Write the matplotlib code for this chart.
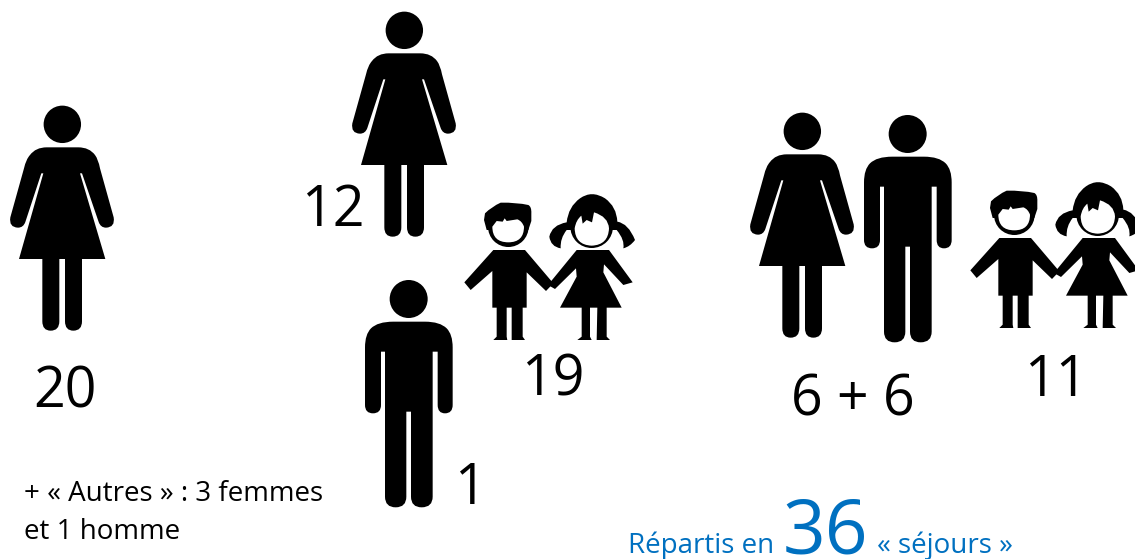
#!/usr/bin/env python
import matplotlib
matplotlib.use("Agg")
import matplotlib.pyplot as plt
from matplotlib.patches import Circle, PathPatch
from matplotlib.path import Path

plt.rcParams["font.family"] = ["Open Sans", "DejaVu Sans"]

group_counts = ["20", "12", "1", "19", "6 + 6", "11"]
others_note = "+ « Autres » : 3 femmes\net 1 homme"
stays_before = "Répartis en"
stays_count = "36"
stays_after = "« séjours »"

BLACK = "#000000"
BLUE = "#0070C0"


# outlines are in zoomed-in units, 3 units = 1 px; a 4-tuple is a curve (ctrl + end)
WOMAN_BODY = [
    (140, 172), (235, 172), (268, 172, 285, 195), (295, 208, 300, 235), (341, 382),
    (346, 412, 318, 413), (302, 413, 296, 396), (246, 250), (240, 250), (316, 507),
    (246, 507), (246, 694), (246, 722, 220, 722), (195, 722, 195, 694), (195, 507),
    (178, 507), (178, 694), (178, 722, 152, 722), (127, 722, 127, 694), (127, 507),
    (57, 507), (130, 250), (124, 250), (76, 396), (70, 413, 54, 413), (26, 412, 31, 382),
    (72, 235), (78, 208, 90, 195), (107, 172, 140, 172),
]
MAN_BODY = [
    (115, 155), (210, 155), (255, 155, 275, 175), (293, 193, 293, 232), (293, 405),
    (293, 430, 270, 430), (248, 430, 248, 405), (248, 245), (233, 245), (233, 680),
    (233, 712, 200, 712), (168, 712, 168, 680), (168, 425), (154, 425), (154, 680),
    (154, 712, 122, 712), (90, 712, 90, 680), (90, 245), (78, 245), (78, 405),
    (78, 430, 54, 430), (30, 430, 30, 405), (30, 232), (30, 193, 48, 175), (68, 155, 115, 155),
]
BOY_HAIR = [
    (75, 85), (95, 65, 122, 53), (170, 52, 205, 60), (215, 65, 214, 85), (214, 108),
    (205, 135), (80, 135), (72, 105),
]
BOY_FACE = [
    (97, 125), (97, 172, 145, 172), (192, 172, 192, 125), (186, 108, 172, 103),
    (140, 108), (134, 100), (128, 110), (110, 108), (97, 125),
]
BOY_BODY = [
    (100, 195), (195, 195), (280, 295), (258, 318), (200, 262), (200, 368), (188, 368),
    (188, 455), (195, 465), (155, 465), (155, 368), (140, 368), (140, 455), (142, 465),
    (100, 465), (110, 455), (110, 368), (97, 368), (97, 258), (32, 315), (13, 292),
]
GIRL_HAIR = [
    (320, 112), (325, 65, 360, 40), (395, 15, 435, 40), (470, 65, 472, 110), (505, 115, 525, 165),
    (510, 185, 490, 190), (495, 165, 470, 135), (320, 135), (300, 160, 302, 190),
    (272, 185, 268, 155), (275, 120, 320, 112),
]
GIRL_FACE = [
    (344, 130), (345, 180, 395, 182), (445, 180, 447, 130), (445, 95, 402, 82),
    (396, 112), (380, 105), (368, 116), (364, 92), (348, 105, 344, 130),
]
GIRL_BODY = [
    (350, 195), (447, 195), (518, 292), (490, 300), (432, 238), (430, 262), (485, 368),
    (440, 368), (440, 455), (450, 465), (410, 465), (412, 368), (390, 368), (390, 455),
    (395, 465), (352, 465), (365, 455), (365, 368), (300, 368), (350, 275), (348, 250),
    (285, 312), (264, 300),
]


def add_shape(ax, outline, dx, dy, color=BLACK):
    verts, codes = [], []
    for i, seg in enumerate(outline):
        if len(seg) == 2:
            verts.append((seg[0] / 3 + dx, seg[1] / 3 + dy))
            codes.append(Path.MOVETO if i == 0 else Path.LINETO)
        else:
            verts.append((seg[0] / 3 + dx, seg[1] / 3 + dy))
            verts.append((seg[2] / 3 + dx, seg[3] / 3 + dy))
            codes += [Path.CURVE3, Path.CURVE3]
    verts.append(verts[0])
    codes.append(Path.CLOSEPOLY)
    ax.add_patch(PathPatch(Path(verts, codes), fc=color, ec="none"))


def add_woman(ax, dx, dy):
    ax.add_patch(Circle((187 / 3 + dx, 103 / 3 + dy), 18.7, fc=BLACK, ec="none"))
    add_shape(ax, WOMAN_BODY, dx, dy)


def add_man(ax, dx, dy):
    ax.add_patch(Circle((161 / 3 + dx, 87 / 3 + dy), 19, fc=BLACK, ec="none"))
    add_shape(ax, MAN_BODY, dx, dy)


def add_children(ax, dx, dy):
    ax.add_patch(Circle((145 / 3 + dx, 125 / 3 + dy), 61 / 3, fc=BLACK, ec="none"))
    ax.add_patch(Circle((395 / 3 + dx, 125 / 3 + dy), 64 / 3, fc=BLACK, ec="none"))
    for part in (BOY_HAIR, BOY_BODY, GIRL_HAIR, GIRL_BODY):
        add_shape(ax, part, dx, dy)
    add_shape(ax, BOY_FACE, dx, dy, color="white")
    add_shape(ax, GIRL_FACE, dx, dy, color="white")


fig = plt.figure(figsize=(11.35, 5.59), dpi=100)
ax = fig.add_axes([0, 0, 1, 1])
ax.set_xlim(0, 1135)
ax.set_ylim(559, 0)
ax.axis("off")

add_woman(ax, 0, 90)
add_woman(ax, 342, -4)
add_man(ax, 355, 270)
add_children(ax, 460, 185)
add_woman(ax, 740, 97)
add_man(ax, 854, 105)
add_children(ax, 966, 173)

label_xy = [(65, 386), (333, 204), (470, 483), (553, 374), (853, 394), (1056, 375)]
for txt, (x, y) in zip(group_counts, label_xy):
    ax.text(x, y, txt, fontsize=40, ha="center", va="center_baseline", color=BLACK)

ax.text(24, 513, others_note, fontsize=20, ha="left", va="center", color=BLACK, linespacing=1.5)
ax.text(628, 553, stays_before, fontsize=20, ha="left", va="baseline", color=BLUE)
ax.text(826, 553, stays_count, fontsize=54, ha="center", va="baseline", color=BLUE)
ax.text(877, 553, stays_after, fontsize=20, ha="left", va="baseline", color=BLUE)

fig.savefig("out.png", dpi=100)
